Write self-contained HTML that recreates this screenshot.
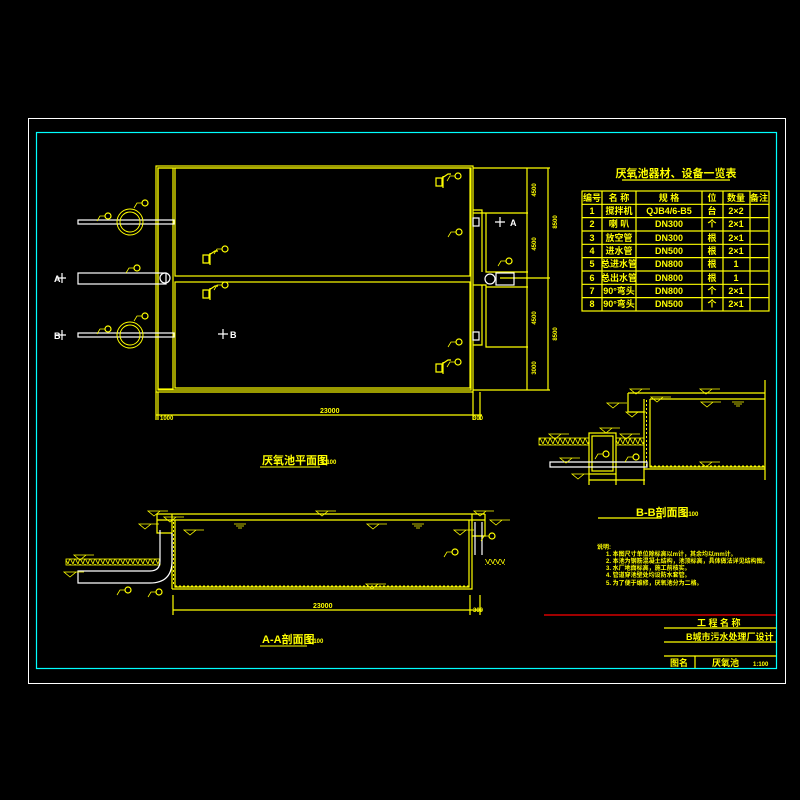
<!DOCTYPE html>
<html><head><meta charset="utf-8"><style>
html,body{margin:0;padding:0;background:#000;}
svg{display:block}
text{font-family:"Liberation Sans","Noto Sans CJK SC",sans-serif;fill:#ff0;font-weight:bold}
</style></head><body>
<svg width="800" height="800" viewBox="0 0 800 800" xmlns="http://www.w3.org/2000/svg">
<defs>
<pattern id="h" width="5" height="6" patternUnits="userSpaceOnUse"><path d="M0 0 L3 6 L5 0" fill="none" stroke="#ff0" stroke-width="0.8"/></pattern>
<g id="bal"><circle cx="0" cy="0" r="3" fill="none" stroke="#ff0" stroke-width="1.2"/><path d="M-3 0 H-8 L-11 5" fill="none" stroke="#ff0" stroke-width="0.8"/></g>
<g id="lv"><path d="M-6 0 H6 L0 5Z M6 0 H14" fill="none" stroke="#ff0" stroke-width="0.8"/></g>
<g id="wl"><path d="M-6 0 H6 M-4 2 H4 M-2 4 H2" stroke="#ff0" stroke-width="0.8"/></g>
</defs>
<rect x="0" y="0" width="800" height="800" fill="#000"/>
<rect x="28.5" y="118.5" width="757" height="565" fill="none" stroke="#fff" stroke-width="1"/>
<rect x="36.5" y="132.5" width="740" height="536" fill="none" stroke="#0ff" stroke-width="1.2"/>

<g fill="none" stroke="#ff0" stroke-width="1.2">
<!-- PLAN -->
<rect x="156" y="166" width="317" height="226"/>
<rect x="158" y="168" width="313" height="222"/>
<rect x="158" y="168" width="15" height="221"/>
<rect x="175" y="168" width="295" height="108"/>
<rect x="175" y="282" width="295" height="106"/>
<path d="M473 210 H482 V272 M473 213 H486 V272 H528 M473 285 H486 V347 H528 M482 285 V345 H473 M486 213 H528 M486 287 H528"/>
<path d="M527 168 V390 M548 168 V390 M473 168 H550 M473 390 H550 M500 278 H550"/>
<path d="M156 392 V420 M158 392 V420 M473 392 V420 M480 392 V420 M156 415 H482"/>
<path d="M436 178 h6 v8 h-6z M443 176 v12 M442 178 l6 -4 h3"/>
<path d="M203 255 h6 v8 h-6z M210 253 v12 M209 255 l6 -4 h3"/>
<path d="M203 290 h6 v8 h-6z M210 288 v12 M209 290 l6 -4 h3"/>
<path d="M436 364 h6 v8 h-6z M443 362 v12 M442 364 l6 -4 h3"/>
<!-- A-A section -->
<path d="M157 514 H485 M157 520 H485 M172 514 V589 M175 520 V587 H469 V520 M172 589 H472 V514 M157 514 V533 H172 M485 514 V536 H472"/>
<path d="M173 595 V615 M470 595 V615 M480 595 V615 M173 610 H482"/>
<!-- B-B section -->
<path d="M628 393 H765 M650 399 H765 M644 399 V469 H765 M650 399 V467 H765 M628 393 V412 H644 M765 380 V480"/>
<rect x="589" y="433" width="27" height="41"/>
<rect x="592" y="436" width="21" height="35"/>
<path d="M589 480 H645 M644 469 V485 M589 474 V485 M616 474 V485"/>
<path d="M598 518 H662"/>
</g>
<!-- hatch -->
<rect x="66" y="559" width="94" height="6" fill="url(#h)" stroke="#ff0" stroke-width="0.8"/>
<rect x="485" y="559" width="20" height="6" fill="url(#h)"/>
<rect x="539" y="438" width="50" height="7" fill="url(#h)" stroke="#ff0" stroke-width="0.8"/>
<rect x="616" y="438" width="28" height="7" fill="url(#h)" stroke="#ff0" stroke-width="0.8"/>
<path d="M175 586 H469" stroke="#ff0" stroke-dasharray="2 2" stroke-width="1"/>
<path d="M650 466 H765" stroke="#ff0" stroke-dasharray="2 2" stroke-width="1"/>
<path d="M173.5 522 V586 M646.5 400 V466" stroke="#ff0" stroke-dasharray="2 2" stroke-width="1"/>
<!-- white pipes -->
<g fill="none" stroke="#fff" stroke-width="1.2">
<rect x="78" y="220" width="96" height="4"/>
<rect x="78" y="333" width="96" height="4"/>
<rect x="78" y="273" width="88" height="11"/>
<circle cx="165" cy="278" r="5"/>
<path d="M160 530 V561 Q160 571 150 571 H78 V583 H150 Q172 583 172 561 V533"/>
<path d="M475 522 V555 M482 522 V555"/>
<path d="M550 462 H647 V467 H550Z"/>
<rect x="473" y="218" width="6" height="8"/><rect x="473" y="332" width="6" height="8"/>
<circle cx="490" cy="279" r="5"/><rect x="496" y="273" width="18" height="12"/>
<path d="M495 222 H505 M500 217 V227 M218 334 H228 M223 329 V339 M56 278 H66 M62 273 V283 M56 335 H66 M62 330 V340"/>
</g>
<g fill="none" stroke="#ff0" stroke-width="1">
<circle cx="130" cy="222" r="13"/><circle cx="130" cy="222" r="10"/>
<circle cx="130" cy="335" r="13"/><circle cx="130" cy="335" r="10"/>
</g>
<!-- balloons -->
<use href="#bal" x="108" y="216"/><use href="#bal" x="145" y="203"/>
<use href="#bal" x="108" y="329"/><use href="#bal" x="145" y="316"/>
<use href="#bal" x="137" y="268"/>
<use href="#bal" x="225" y="249"/><use href="#bal" x="225" y="285"/>
<use href="#bal" x="458" y="176"/><use href="#bal" x="458" y="362"/>
<use href="#bal" x="459" y="232"/><use href="#bal" x="459" y="342"/>
<use href="#bal" x="509" y="261"/>
<use href="#bal" x="128" y="590"/><use href="#bal" x="159" y="592"/>
<use href="#bal" x="492" y="536"/><use href="#bal" x="455" y="552"/>
<use href="#bal" x="606" y="454"/><use href="#bal" x="636" y="457"/>
<!-- levels -->
<use href="#lv" x="154" y="511"/><use href="#lv" x="322" y="511"/><use href="#lv" x="480" y="511"/>
<use href="#lv" x="170" y="517"/><use href="#lv" x="145" y="524"/><use href="#lv" x="190" y="530"/>
<use href="#lv" x="373" y="524"/><use href="#lv" x="460" y="530"/><use href="#lv" x="496" y="520"/>
<use href="#lv" x="80" y="555"/><use href="#lv" x="70" y="572"/><use href="#lv" x="372" y="584"/>
<use href="#wl" x="240" y="524"/><use href="#wl" x="418" y="524"/>
<use href="#lv" x="636" y="389"/><use href="#lv" x="706" y="389"/><use href="#lv" x="657" y="397"/>
<use href="#lv" x="613" y="403"/><use href="#lv" x="632" y="412"/><use href="#lv" x="707" y="402"/>
<use href="#wl" x="738" y="402"/><use href="#lv" x="606" y="428"/><use href="#lv" x="555" y="434"/>
<use href="#lv" x="626" y="434"/><use href="#lv" x="566" y="458"/><use href="#lv" x="578" y="474"/>
<use href="#lv" x="706" y="462"/>
<!-- TABLE -->
<g fill="none" stroke="#ff0" stroke-width="1.2">
<rect x="582" y="191" width="187" height="120"/>
<path d="M582 204.3H769M582 217.6H769M582 231H769M582 244.3H769M582 257.6H769M582 271H769M582 284.3H769M582 297.6H769"/>
<path d="M602 191V311M636 191V311M702 191V311M723 191V311M750 191V311"/>
<path d="M622 180 H730"/>
</g>
<text x="676" y="177" font-size="11" text-anchor="middle">厌氧池器材、设备一览表</text>
<g font-size="9" text-anchor="middle">
<text x="592" y="201">编号</text><text x="619" y="201">名 称</text><text x="669" y="201">规 格</text><text x="712" y="201">位</text><text x="736" y="201">数量</text><text x="759" y="201">备注</text>
<text x="592" y="214">1</text><text x="619" y="214">搅拌机</text><text x="669" y="214">QJB4/6-B5</text><text x="712" y="214">台</text><text x="736" y="214">2×2</text>
<text x="592" y="227">2</text><text x="619" y="227">喇 叭</text><text x="669" y="227">DN300</text><text x="712" y="227">个</text><text x="736" y="227">2×1</text>
<text x="592" y="241">3</text><text x="619" y="241">放空管</text><text x="669" y="241">DN300</text><text x="712" y="241">根</text><text x="736" y="241">2×1</text>
<text x="592" y="254">4</text><text x="619" y="254">进水管</text><text x="669" y="254">DN500</text><text x="712" y="254">根</text><text x="736" y="254">2×1</text>
<text x="592" y="267">5</text><text x="619" y="267">总进水管</text><text x="669" y="267">DN800</text><text x="712" y="267">根</text><text x="736" y="267">1</text>
<text x="592" y="281">6</text><text x="619" y="281">总出水管</text><text x="669" y="281">DN800</text><text x="712" y="281">根</text><text x="736" y="281">1</text>
<text x="592" y="294">7</text><text x="619" y="294">90°弯头</text><text x="669" y="294">DN800</text><text x="712" y="294">个</text><text x="736" y="294">2×1</text>
<text x="592" y="307">8</text><text x="619" y="307">90°弯头</text><text x="669" y="307">DN500</text><text x="712" y="307">个</text><text x="736" y="307">2×1</text>
</g>
<!-- titles -->
<text x="262" y="464" font-size="11">厌氧池平面图</text><text x="321" y="464" font-size="6">1:100</text>
<line x1="260" y1="467" x2="320" y2="467" stroke="#ff0"/>
<text x="262" y="643" font-size="11">A-A剖面图</text><text x="308" y="643" font-size="6">1:100</text>
<line x1="260" y1="646" x2="307" y2="646" stroke="#ff0"/>
<text x="636" y="516" font-size="11">B-B剖面图</text><text x="683" y="516" font-size="6">1:100</text>
<text x="320" y="413" font-size="7">23000</text><text x="313" y="608" font-size="7">23000</text>
<text x="160" y="420" font-size="6">1000</text><text x="473" y="420" font-size="6">300</text><text x="473" y="612" font-size="6">300</text>
<g font-size="6"><text x="0" y="0" transform="translate(536,190) rotate(-90)" text-anchor="middle">4500</text>
<text transform="translate(536,244) rotate(-90)" text-anchor="middle">4500</text>
<text transform="translate(536,318) rotate(-90)" text-anchor="middle">4500</text>
<text transform="translate(536,368) rotate(-90)" text-anchor="middle">3000</text>
<text transform="translate(557,222) rotate(-90)" text-anchor="middle">8500</text>
<text transform="translate(557,334) rotate(-90)" text-anchor="middle">8500</text></g>
<text x="54" y="282" font-size="9" style="fill:#fff">A</text>
<text x="54" y="339" font-size="9" style="fill:#fff">B</text>
<text x="230" y="338" font-size="9" style="fill:#fff">B</text>
<text x="510" y="226" font-size="9" style="fill:#fff">A</text>
<!-- notes -->
<g font-size="6">
<text x="597" y="549">说明:</text>
<text x="606" y="556">1. 本图尺寸单位除标高以m计，其余均以mm计。</text>
<text x="606" y="563">2. 本池为钢筋混凝土结构，池顶标高，具体做法详见结构图。</text>
<text x="606" y="570">3. 水厂地面标高，施工前核实。</text>
<text x="606" y="577">4. 管道穿池壁处均设防水套管。</text>
<text x="606" y="585">5. 为了便于维修，厌氧池分为二格。</text>
</g>
<!-- title block -->
<line x1="544" y1="615" x2="776" y2="615" stroke="#f00" stroke-width="1.2"/>
<g stroke="#ff0" stroke-width="1.2"><line x1="664" y1="628" x2="776" y2="628"/><line x1="664" y1="642" x2="776" y2="642"/><line x1="664" y1="656" x2="776" y2="656"/><line x1="695" y1="656" x2="695" y2="668"/></g>
<text x="697" y="626" font-size="9">工 程 名 称</text>
<text x="686" y="640" font-size="9">B城市污水处理厂设计</text>
<text x="670" y="666" font-size="9">图名</text><text x="712" y="666" font-size="9">厌氧池</text><text x="753" y="666" font-size="6">1:100</text>
</svg>
</body></html>
